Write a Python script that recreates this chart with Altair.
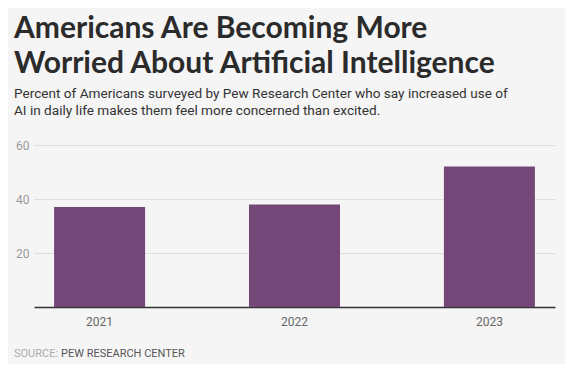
import altair as alt
import pandas as pd

years = ["2021", "2022", "2023"]
values = [37, 38, 52]

source_label = ["SOURCE:"]
source_name = ["PEW RESEARCH CENTER"]

df = pd.DataFrame({"year": years, "value": values})

W, H = 521, 162

bars = alt.Chart(df).mark_bar(color="#734878").encode(
    x=alt.X("year:N", title=None,
            scale=alt.Scale(paddingInner=0.533, paddingOuter=0.103),
            axis=alt.Axis(labelAngle=0, ticks=False, domain=True, domainColor="#333333",
                          domainWidth=1.5, labelColor="#666666", labelFontSize=12,
                          labelPadding=9, labelFont="Roboto", grid=False)),
    y=alt.Y("value:Q", title=None,
            scale=alt.Scale(domain=[0, 60], nice=False),
            axis=alt.Axis(values=[20, 40, 60], ticks=False, domain=False,
                          gridColor="#dddddd", labelColor="#999999", labelFontSize=12,
                          labelPadding=5, labelFont="Roboto")),
)

src1 = alt.Chart(pd.DataFrame({"t": source_label})).mark_text(
    align="left", baseline="alphabetic", fontSize=11, font="Roboto", color="#aaaaaa"
).encode(text="t:N", x=alt.value(-20), y=alt.value(H + 50))

src2 = alt.Chart(pd.DataFrame({"t": source_name})).mark_text(
    align="left", baseline="alphabetic", fontSize=11, font="Roboto", color="#555555"
).encode(text="t:N", x=alt.value(27), y=alt.value(H + 50))

chart = alt.layer(bars, src1, src2).properties(
    width=W, height=H,
    background="#f5f5f5",
    padding={"left": 6, "top": 6, "right": 10, "bottom": 5},
    title=alt.TitleParams(
        text=["Americans Are Becoming More", "Worried About Artificial Intelligence"],
        subtitle=["Percent of Americans surveyed by Pew Research Center who say increased use of",
                  "AI in daily life makes them feel more concerned than excited."],
        anchor="start", frame="bounds",
        font="Lato", fontSize=30, fontWeight="bold", color="#2b2b2b", lineHeight=35,
        subtitleFont="Roboto", subtitleFontSize=13.6, subtitleColor="#333333",
        subtitleLineHeight=17, subtitlePadding=8, offset=21,
    ),
).configure_view(stroke=None)

chart.save("out.html", embed_options={"renderer": "svg", "actions": False})
